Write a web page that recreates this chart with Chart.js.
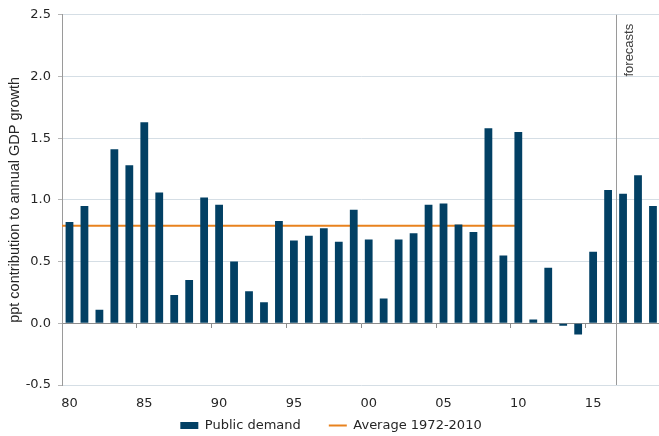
<!DOCTYPE html>
<html lang="en">
<head>
  <meta charset="UTF-8">
  <title>Public demand contribution to GDP growth</title>
  <script src="https://cdn.jsdelivr.net/npm/chart.js"></script>
  <style>
    html, body { margin: 0; padding: 0; overflow: hidden; background: #fff; }
    #chart { display: block; }
  </style>
</head>
<body>
  <canvas id="chart" width="664" height="442"></canvas>

  <script>
    // years on the x axis
    const years = [
      '1980', '1981', '1982', '1983', '1984', '1985', '1986', '1987', '1988', '1989',
      '1990', '1991', '1992', '1993', '1994', '1995', '1996', '1997', '1998', '1999',
      '2000', '2001', '2002', '2003', '2004', '2005', '2006', '2007', '2008', '2009',
      '2010', '2011', '2012', '2013', '2014', '2015', '2016', '2017', '2018', '2019'
    ];
    const xTickLabels = ['80', '85', '90', '95', '00', '05', '10', '15'];

    // ppt contribution of public demand
    const publicDemand = [
      0.82, 0.95, 0.11, 1.41, 1.28, 1.63, 1.06, 0.23, 0.35, 1.02,
      0.96, 0.50, 0.26, 0.17, 0.83, 0.67, 0.71, 0.77, 0.66, 0.92,
      0.68, 0.20, 0.68, 0.73, 0.96, 0.97, 0.80, 0.74, 1.58, 0.55,
      1.55, 0.03, 0.45, -0.02, -0.09, 0.58, 1.08, 1.05, 1.20, 0.95
    ];

    // average 1972-2010
    const avgYears = [1972, 2010];
    const avgValue = 0.79;

    const forecastFrom = 2016.5;
    const yTicks = [-0.5, 0.0, 0.5, 1.0, 1.5, 2.0, 2.5];

    const navy = '#024064';
    const orange = '#e8821e';
    const tickFont = { family: 'DejaVu Sans', size: 13 };

    // vertical "forecasts" divider
    const forecastLine = {
      id: 'forecastLine',
      afterDatasetsDraw(chart) {
        const { ctx, chartArea } = chart;
        const x = Math.round(chart.scales.x2.getPixelForValue(forecastFrom)) + 0.5;
        ctx.save();
        ctx.strokeStyle = '#9a9a9a';
        ctx.lineWidth = 1;
        ctx.beginPath();
        ctx.moveTo(x, chartArea.top);
        ctx.lineTo(x, chartArea.bottom);
        ctx.stroke();
        ctx.translate(x + 13, chartArea.top + 9);
        ctx.rotate(-Math.PI / 2);
        ctx.fillStyle = '#404040';
        ctx.font = '13px "Liberation Sans", Arial, sans-serif';
        ctx.textAlign = 'right';
        ctx.textBaseline = 'middle';
        ctx.fillText('forecasts', 0, 0);
        ctx.restore();
      }
    };

    const ctx = document.getElementById('chart').getContext('2d');
    new Chart(ctx, {
      type: 'bar',
      data: {
        labels: years,
        datasets: [{
          label: 'Public demand',
          data: publicDemand,
          backgroundColor: navy,
          borderWidth: 0,
          pointStyle: 'rect',
          grouped: false,
          categoryPercentage: 1,
          barPercentage: 0.52
        }, {
          type: 'line',
          label: 'Average 1972-2010',
          xAxisID: 'x2',
          data: avgYears.map(y => ({ x: y, y: avgValue })),
          borderColor: orange,
          backgroundColor: orange,
          borderWidth: 2,
          pointRadius: 0,
          pointStyle: 'line'
        }]
      },
      options: {
        responsive: false,
        devicePixelRatio: 1,
        animation: false,
        layout: { padding: { top: 13, right: 2, left: 0, bottom: 0 } },
        plugins: {
          tooltip: { enabled: false },
          legend: {
            position: 'bottom',
            labels: {
              usePointStyle: true,
              pointStyleWidth: 18,
              boxHeight: 7,
              padding: 28,
              color: '#262626',
              font: tickFont
            }
          }
        },
        scales: {
          x: {
            type: 'category',
            offset: true,
            grid: { display: false, drawTicks: false },
            border: { display: false },
            ticks: {
              autoSkip: false,
              maxRotation: 0,
              padding: 11,
              color: '#262626',
              font: tickFont,
              callback: (v, i) => (i % 5 === 0 ? xTickLabels[i / 5] : '')
            },
            // keep the axis box short so the legend sits close; labels may overflow it
            afterFit: s => {
              s.height = 6;
              s._computeLabelArea = () => null;
            }
          },
          xZero: {
            type: 'category',
            axis: 'x',
            position: { y: 0 },
            offset: true,
            grid: {
              offset: true,
              drawOnChartArea: false,
              drawTicks: true,
              tickLength: 4,
              color: c => (c.index > 0 && c.index % 5 === 0 ? '#8c8c8c' : 'rgba(0,0,0,0)')
            },
            border: { color: '#8c8c8c', width: 1 },
            ticks: { display: false, autoSkip: false }
          },
          x2: {
            type: 'linear',
            display: false,
            offset: false,
            grid: { offset: false },
            min: 1979.5,
            max: 2019.5
          },
          y: {
            min: -0.5,
            max: 2.5,
            afterBuildTicks: s => { s.ticks = yTicks.map(v => ({ value: v })); },
            afterFit: s => { s.width = 62; },
            grid: {
              color: c => (c.tick && c.tick.value === 0 ? 'rgba(0,0,0,0)' : '#d5dee5'),
              tickColor: '#b5b5b5',
              tickLength: 4
            },
            border: { color: '#9a9a9a', width: 1 },
            ticks: {
              padding: 7,
              color: '#262626',
              font: tickFont,
              callback: v => v.toFixed(1)
            },
            title: {
              display: true,
              text: 'ppt contribution to annual GDP growth',
              color: '#262626',
              font: { family: 'Liberation Sans', size: 14.5 },
              padding: { top: 6, bottom: 0 }
            }
          }
        }
      },
      plugins: [forecastLine]
    });
  </script>
</body>
</html>
